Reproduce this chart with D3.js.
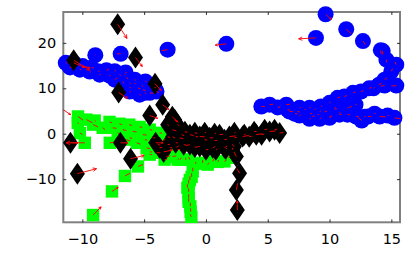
<!DOCTYPE html>
<html>
<head>
<meta charset="utf-8">
<script src="https://cdn.jsdelivr.net/npm/d3@7"></script>
<style>
  html, body { margin: 0; padding: 0; background: #fff; }
  svg { display: block; }
  text { font-family: "DejaVu Sans", sans-serif; }
</style>
</head>
<body>
<svg id="svg1" width="415" height="278"></svg>
<script>
var xTicks = [-10, -5, 0, 5, 10, 15];
var yTicks = [-10, 0, 10, 20];

var blueX = [-8.95,-6.9,-3.1,1.65,9.68,11.35,12.7,14.15,8.9,
  -11.34,-10.7,-9.97,-9.26,-8.73,-8.05,-7.38,-6.98,-7.38,-6.73,-6.17,-5.5,-5.09,-4.55,-4,-6.4,-5.8,-5.2,
  4.48,5.15,6.5,6.77,6.6,7.4,8,8.8,9.3,10,10.65,11.2,11.9,12.55,13.2,14,14.45,15,15.4,14.6,14.3,15.4,14.45,
  9.05,10,10.8,11.45,12.15,12.6,13.1,14.05,15.25,5.8,7.2,8.4,9.6,10.4,11.6,8.6,
  7.57,8.38,9.2,10,10.8,11.45,10.4,9.2,8.38,12.1,7.57,6.93,12.83,13.64,14.7,13.55,
  -11,-10.2,-9.4,-8.6,-7.8,-6.6,-5.76,-6.17,-5.36,-4.9,-4.15,-6.17,-4.95,-6.5];
var blueY = [17.3,17.6,18.5,19.8,26.3,23,20.4,18.4,21.1,
  15.6,15.6,14.9,14.5,13.75,14,13.75,13,11.9,11.5,11.2,10.1,9.7,9,9.3,12.4,11.2,10.6,
  6,6.4,6.4,4.9,5.3,4.9,5.3,5.3,6,6.8,7.9,8.2,9,9.3,10,10.8,11.9,13.75,15.2,16.3,18.2,10.6,10.6,
  4.2,3.8,4.2,4.2,3.8,2.9,3.8,3.8,3.5,5.8,4.4,4.4,4.8,5.4,5.8,3.8,
  4,3.3,3.3,3.5,4.6,5.7,5.7,4.9,5.7,6.4,5.7,4.9,3.75,4.4,4,10,
  14.6,14.1,13.7,13,12.8,13,11.9,10.2,8.6,11.5,10.2,9.3,9,13.5];
var blueU = [0,-0.3,-0.5,-0.9,0.45,0.4,0.2,0,-1.4,
  0.1,0.9,0.6,0.2,0.1,0.2,0.1,0.1,0.2,0.1,0.1,0.2,0.2,0.3,0.2,0.1,0.1,0.1,
  0.3,0.3,0.3,0.2,0.2,0.2,0.1,0.1,0.1,0.1,0.2,0.2,0.2,0.2,0.2,0.2,0.2,0.1,-0.1,0,0,-0.4,-0.3,
  0.1,0.2,0.2,0.2,0.2,-0.3,0.3,0.5,0.5,0.2,0.2,0.2,0.2,0.2,0.2,0.2,
  0.1,0.1,0.1,0.1,0.1,0.1,0.1,0.1,0.1,0.1,0.1,0.1,0.1,0.1,0.1,0.1,
  0.1,0.1,0.1,0.1,0.1,0.1,0.1,0.1,0.1,0.1,0.1,0.1,0.1,0.1];
var blueV = [0.1,0,-0.2,-0.3,-1.1,-1,-0.8,-0.8,-0.2,
  0,-1,-0.4,0,0,0.2,0.2,-0.2,0.4,-0.4,-0.2,-0.2,-0.2,-0.1,-0.3,-0.4,-0.3,-0.2,
  0,0.1,0.1,0,-0.1,-0.1,0.1,0.2,0.2,0.2,0.2,0.2,0.2,0.2,0.2,0.3,0.4,0.6,0.6,-0.6,-0.8,-0.1,-0.1,
  0,0.1,0.1,0,0,0.7,0,-0.1,-0.2,0.1,0,0.1,0.2,0.1,0.2,0.1,
  0.1,0,0.1,0.1,0.1,0.1,0.1,0.1,0.1,0.1,0.1,0,0,0.1,0,0.2,
  0,0,-0.2,0,0,0.1,-0.1,-0.1,-0.1,0,-0.1,-0.1,-0.1,0];

var greenX = [-10.35,-9.67,-9.13,-8.35,-7.54,-6.73,-5.92,-5.1,-4.3,-7.78,-9.8,-10.2,-6.43,-5.6,-4.8,-4,-3.2,-2.7,
  -5.5,-6.55,-7.6,-9.13,-1.3,-0.27,0.55,1.5,-1.07,-1.3,-1.5,-1.4,-1.26,-1.18,-2.1,-3.5,-2.4,
  -10.37,-9,-7.8,-7,-6.2,-5.36,-4.55,-3.75,-3.1,-7.14,-6.17,-4.95,-3.9,-2.93,-2.29,
  -4.55,-3.34,-2.29,-1.64,-0.83,0.14,0.95,1.84,-4.55,-1.16,-1.4,-1.4,-1.4,-1.24];
var greenY = [3.8,3.1,2,1.3,1.3,0.9,0.5,-0.2,-0.9,-2,-2,0.15,-1.3,-2,-3.1,-4.2,-5,-5,
  -7.2,-9.3,-12.7,-17.9,-5.7,-6.4,-6.1,-6.1,-8.3,-10.2,-11.9,-14.1,-16,-18.3,-5.7,-1.5,-3,
  2.4,2.9,2.6,2.2,2,1.5,0.9,0.2,-0.7,0.2,-0.9,-1.3,-2.4,-3.1,-3.5,
  -4,-5.7,-5.7,-5.7,-6.6,-6.8,-6.2,-5.3,-4.6,-9.5,-11,-12.8,-15,-17.2];
var greenU = [0.4,0.5,0.4,0.2,0.3,0.3,0.3,0.3,0.2,0.3,-1.5,0.2,0.3,0.3,0.3,0.3,0.3,0.3,
  0.4,0.4,0.5,0.65,-0.1,0,0.1,0.2,0,0,0,0,0,-0.1,0.1,0.2,0.2,
  0.1,0.1,0.2,0.2,0.2,0.2,0.2,0.2,0.2,0.1,0.2,0.2,0.2,0.2,0.2,
  0.2,0.2,0.1,0,0,0.1,0.1,0.1,0.2,0,0,0,0,0];
var greenV = [-0.8,-0.7,-0.5,-0.4,-0.1,-0.2,-0.1,-0.1,0,0.1,0,-0.3,-0.3,-0.3,-0.2,0,0.1,0.1,
  0.4,0.6,0.9,1.8,0.6,0.6,0.6,0.4,0.8,0.8,0.8,0.8,0.8,0.6,0.4,0.2,0.3,
  -0.2,-0.2,-0.2,-0.2,-0.2,-0.1,-0.1,-0.1,-0.1,-0.2,-0.1,-0.1,-0.1,0,0,
  0,0.1,0.2,0.4,0.4,0.4,0.4,0.4,0,0.8,0.8,0.8,0.8,0.8];

var blackX = [-7.14,-5.7,-10.7,-7.06,-4.12,-3.5,-4.55,-2.72,-10.96,-10.4,-6.92,-6.1,-4.07,-3.42,
  -2.69,-2.69,-2.53,-1.3,-0.5,0.3,1.1,1.9,2.97,4.07,5.15,5.96,-1.3,-0.5,0.55,1.5,2.3,-2.13,2.46,2.72,2.46,2.54,
  -2.29,-3.1,-1.96,-2.45,-1.8,-0.9,0,0.8,1.6,-0.83,-0.1,0.7,1.5,2.3,3.5,4.5,4.75,3.9,5.55,3.1,2.3,0.7,-0.1,-0.9,-1.7,-3.1,-3.75,2.16];
var blackY = [24.1,16.8,16.2,9.1,11,6.4,4,3.75,-2,-8.8,-2,-5.5,-2,-4,
  -0.66,0.9,3.1,-0.2,-0.6,-0.9,-0.2,-0.6,-0.6,-0.2,0.5,0.15,-2.4,-2.8,-3.1,-3.1,-2.8,-0.9,-5,-8.7,-12.4,-16.8,
  2,2,-0.2,-2,-2.4,-2.9,-3.5,-3.5,-3.3,-0.66,-1.3,-1.5,-1.3,-0.9,-0.66,-0.2,0.9,0.44,0.9,-0.2,0.2,0,0.2,0.2,0.44,-2.4,-3.1,-3.5];
var blackU = [0.75,0.55,1.3,0.7,0.5,0.5,0.65,0.4,0.6,1.55,0.6,1.1,0.6,0.7,
  0.2,0.3,0.3,0.3,0.4,0.3,0.3,0.5,0.5,0.5,0.5,0.3,-0.3,-0.2,0.2,0.2,-0.2,0.3,-0.2,-0.2,0.1,0,
  0.1,0.1,0.2,0.2,0.2,0.2,0.2,0.1,0.1,0.2,0.2,0.2,0.2,0.2,0.2,0.2,0.2,0.2,0.2,0.1,0.1,0.1,0.1,0.2,0.2,0.2,0.2,0];
var blackV = [-3.1,-2,-2.2,-1.3,-1.5,-1.1,-0.6,-1.1,0,1.1,0,0.7,0,0.4,
  -0.3,-0.3,-0.6,-0.2,-0.1,0,0.1,0.1,0.2,0.2,0.1,0.1,-0.2,-0.1,0.3,0.4,0.5,-0.2,1,1,1.5,2,
  -0.2,-0.2,-0.2,0,-0.1,-0.1,0,0.1,0.1,0,-0.1,0,0.1,0.1,0.1,0.1,0.1,0.1,0.1,0.1,0.1,0.1,0.1,-0.1,-0.1,0.1,0.1,0.4];

// the one arrow at the left edge with no marker under it
var strayX = [-11.55];
var strayY = [5.3];
var strayU = [0.6];
var strayV = [-1.1];

var svg = d3.select("svg#svg1");
var plotLeft = 63.3, plotRight = 400, plotTop = 12, plotBottom = 222.3;

var xScale = d3.scaleLinear().domain([-11.54, 15.7]).range([plotLeft, plotRight]);
var yScale = d3.scaleLinear().domain([-19.5, 26.8]).range([plotBottom, plotTop]);

var makeRows = function(xs, ys, us, vs) {
  return xs.map(function(x, i) {
    return {x: x, y: ys[i], u: us[i], v: vs[i]};
  });
};

var blue = makeRows(blueX, blueY, blueU, blueV);
var green = makeRows(greenX, greenY, greenU, greenV);
var black = makeRows(blackX, blackY, blackU, blackV);
var stray = makeRows(strayX, strayY, strayU, strayV);

// frame and ticks
var frame = svg.append("g").attr("id", "frame");
frame.append("rect")
  .attr("x", plotLeft).attr("y", plotTop)
  .attr("width", plotRight - plotLeft).attr("height", plotBottom - plotTop)
  .attr("fill", "none").attr("stroke", "#808080").attr("stroke-width", 2);

var styleAxis = function(g) {
  g.select(".domain").remove();
  g.selectAll("line").attr("stroke", "#000").attr("stroke-width", 0.8);
  g.selectAll("text")
    .attr("fill", "#000")
    .style("font-size", "14.5px")
    .style("font-family", '"DejaVu Sans", sans-serif');
};

var tickFmt = function(d) { return d < 0 ? "\u2212" + Math.abs(d) : "" + d; };

frame.append("g")
  .attr("transform", "translate(0," + plotBottom + ")")
  .call(d3.axisBottom(xScale).tickValues(xTicks).tickFormat(tickFmt).tickSize(-3).tickPadding(11))
  .call(styleAxis);
frame.append("g")
  .attr("transform", "translate(0," + plotTop + ")")
  .call(d3.axisTop(xScale).tickValues(xTicks).tickFormat("").tickSize(-3))
  .call(styleAxis);
frame.append("g")
  .attr("transform", "translate(" + plotLeft + ",0)")
  .call(d3.axisLeft(yScale).tickValues(yTicks).tickFormat(tickFmt).tickSize(-3).tickPadding(7))
  .call(styleAxis);
frame.append("g")
  .attr("transform", "translate(" + plotRight + ",0)")
  .call(d3.axisRight(yScale).tickValues(yTicks).tickFormat("").tickSize(-3))
  .call(styleAxis);

// markers
svg.append("g").selectAll("circle")
  .data(blue)
  .enter()
  .append("circle")
  .attr("cx", d => xScale(d.x))
  .attr("cy", d => yScale(d.y))
  .attr("r", 8)
  .attr("fill", "#0000ff");

svg.append("g").selectAll("rect")
  .data(green)
  .enter()
  .append("rect")
  .attr("x", d => xScale(d.x) - 6.2)
  .attr("y", d => yScale(d.y) - 6.2)
  .attr("width", 12.4)
  .attr("height", 12.4)
  .attr("fill", "#00ff00");

svg.append("g").selectAll("path")
  .data(black)
  .enter()
  .append("path")
  .attr("d", "M0,-11L7.5,0L0,11L-7.5,0Z")
  .attr("transform", d => "translate(" + xScale(d.x) + "," + yScale(d.y) + ")")
  .attr("fill", "#000");

// red quiver arrows go on top of everything, short ones have no visible head
var arrowPath = function(d) {
  var x0 = xScale(d.x), y0 = yScale(d.y);
  var x1 = xScale(d.x + d.u), y1 = yScale(d.y + d.v);
  var len = Math.sqrt((x1 - x0) * (x1 - x0) + (y1 - y0) * (y1 - y0));
  var line = "M" + x0 + "," + y0 + "L" + x1 + "," + y1;
  if (len < 7) return line;
  var ang = Math.atan2(y1 - y0, x1 - x0);
  var head = Math.min(len * 0.25, 4);
  var ax = x1 - head * Math.cos(ang - 0.45), ay = y1 - head * Math.sin(ang - 0.45);
  var bx = x1 - head * Math.cos(ang + 0.45), by = y1 - head * Math.sin(ang + 0.45);
  return line + "M" + ax + "," + ay + "L" + x1 + "," + y1 + "L" + bx + "," + by;
};

svg.append("g").selectAll("path")
  .data(blue.concat(green, black, stray))
  .enter()
  .append("path")
  .attr("d", arrowPath)
  .attr("fill", "none")
  .attr("stroke", "#ff0000")
  .attr("stroke-width", 0.9);
</script>
</body>
</html>
